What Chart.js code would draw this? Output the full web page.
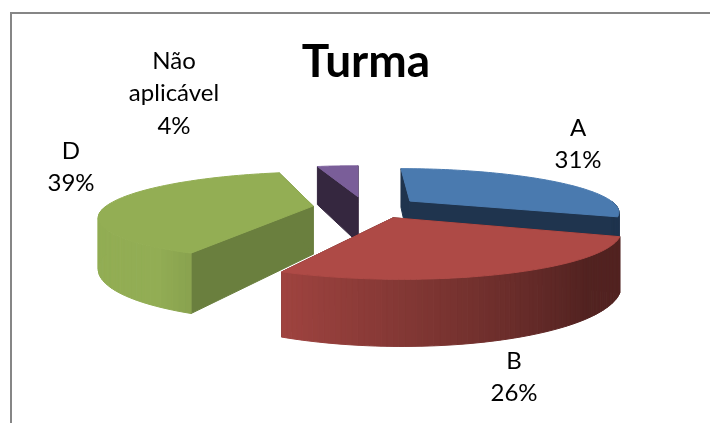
<!DOCTYPE html>
<html>
<head>
<meta charset="utf-8">
<title>Turma</title>
<script src="https://cdn.jsdelivr.net/npm/chart.js@4"></script>
<style>
  html, body { margin: 0; padding: 0; background: #fff; overflow: hidden; }
</style>
</head>
<body>
<canvas id="chart" width="710" height="423"></canvas>
<script>
// Data
const categories = ['A', 'B', 'D', 'Não aplicável'];
const values = [31, 26, 39, 4];

// Styles
const topColors = ['#4a7aaf', '#ae4a46', '#93ae54', '#7a5e99'];
const radialWallColors = ['#1f344e', '#4f1f1e', '#6a7f3e', '#35273f'];
const rimLight = [[65, 108, 162], [170, 72, 68], [146, 173, 84], [74, 56, 88]];
const drawOrder = [3, 0, 2, 1];   // back to front
const sliceNudge = [0, 5, 0, -2];   // horizontal pixels
const labelFont = '24px Lato, "Open Sans", sans-serif';

// Label anchors, one entry per category: center x, first line y, lines
const labelAnchors = [
  { x: 578, y: 128, lines: ['A'] },
  { x: 514, y: 361, lines: ['B'] },
  { x: 71, y: 151, lines: ['D'] },
  { x: 174, y: 61, lines: ['Não', 'aplicável'] }
];
const lineHeight = 32.5;

// Perspective camera for the pie plane
const view = { vx: 360, vy: 19, h: 188, k: 0.2237, a: 208, x0: -0.0325, depth: 48.5, explode: 0.26 };

function project(x, y, down, nudge) {
  const r = 1 + view.k * y;
  return {
    x: view.vx + nudge + view.a * (x - view.x0) / r,
    y: view.vy + (view.h + (down ? view.depth : 0)) / r
  };
}

function fillPoly(ctx, pts, color) {
  ctx.beginPath();
  pts.forEach((p, i) => (i ? ctx.lineTo(p.x, p.y) : ctx.moveTo(p.x, p.y)));
  ctx.closePath();
  ctx.fillStyle = color;
  ctx.strokeStyle = color;
  ctx.lineWidth = 1;
  ctx.lineJoin = 'round';
  ctx.fill();
  ctx.stroke();
}

// Brightness of the outer wall depends on where it faces
function rimShade(theta) {
  const deg = theta * 180 / Math.PI;
  const t = Math.min(1, Math.max(0, (deg - 135) / 80));
  return 0.48 + 0.52 * t;
}

function drawSlice(ctx, arc, i) {
  // Chart.js angles start at 3 o'clock, the plane is measured from 12 o'clock
  const start = arc.startAngle + Math.PI / 2;
  const end = arc.endAngle + Math.PI / 2;
  const mid = (start + end) / 2;
  const cx = view.explode * Math.sin(mid);
  const cy = view.explode * Math.cos(mid);
  const n = sliceNudge[i];
  const steps = 80;
  const rim = [];
  for (let s = 0; s <= steps; s++) {
    const t = start + (end - start) * s / steps;
    rim.push({ t, x: cx + Math.sin(t), y: cy + Math.cos(t) });
  }
  const first = rim[0];
  const last = rim[steps];

  // radial walls
  [first, last].forEach(p => {
    fillPoly(ctx, [
      project(cx, cy, false, n), project(p.x, p.y, false, n),
      project(p.x, p.y, true, n), project(cx, cy, true, n)
    ], radialWallColors[i]);
  });

  // outer wall as small shaded strips, only the part that faces the viewer
  for (let s = 0; s < steps; s++) {
    const p = rim[s];
    const q = rim[s + 1];
    if (Math.cos((p.t + q.t) / 2) > 0) continue;
    const shade = rimShade((p.t + q.t) / 2);
    const c = rimLight[i].map(v => Math.round(v * shade));
    fillPoly(ctx, [
      project(p.x, p.y, false, n), project(q.x, q.y, false, n),
      project(q.x, q.y, true, n), project(p.x, p.y, true, n)
    ], `rgb(${c[0]},${c[1]},${c[2]})`);
  }

  // top face
  const top = [project(cx, cy, false, n)].concat(rim.map(p => project(p.x, p.y, false, n)));
  fillPoly(ctx, top, arc.options.backgroundColor);
}

const pie3d = {
  id: 'pie3d',
  beforeDatasetsDraw(chart) {
    const ctx = chart.ctx;
    const arcs = chart.getDatasetMeta(0).data;

    // chart frame, cut off by the window on the right and at the bottom
    ctx.save();
    ctx.strokeStyle = '#868686';
    ctx.lineWidth = 2;
    ctx.strokeRect(11, 13, 760, 460);
    ctx.restore();

    ctx.save();
    drawOrder.forEach(i => drawSlice(ctx, arcs[i], i));
    ctx.restore();
    return false;
  },
  afterDraw(chart) {
    const ctx = chart.ctx;
    const total = values.reduce((a, b) => a + b, 0);
    ctx.save();
    ctx.font = labelFont;
    ctx.fillStyle = '#000';
    ctx.textAlign = 'center';
    ctx.textBaseline = 'middle';
    labelAnchors.forEach((l, i) => {
      const lines = l.lines.concat(Math.round(values[i] / total * 100) + '%');
      lines.forEach((text, k) => ctx.fillText(text, l.x, l.y + k * lineHeight));
    });
    ctx.restore();
  }
};

new Chart(document.getElementById('chart').getContext('2d'), {
  type: 'pie',
  data: {
    labels: categories,
    datasets: [{ data: values, backgroundColor: topColors, borderWidth: 0 }]
  },
  options: {
    responsive: false,
    animation: false,
    layout: { padding: { left: 22 } },
    plugins: {
      legend: { display: false },
      tooltip: { enabled: false },
      title: {
        display: true,
        text: 'Turma',
        color: '#000',
        font: { family: 'Lato, "Open Sans", sans-serif', size: 46, weight: 'bold' },
        padding: { top: 35, bottom: 10 }
      }
    }
  },
  plugins: [pie3d]
});
</script>
</body>
</html>
